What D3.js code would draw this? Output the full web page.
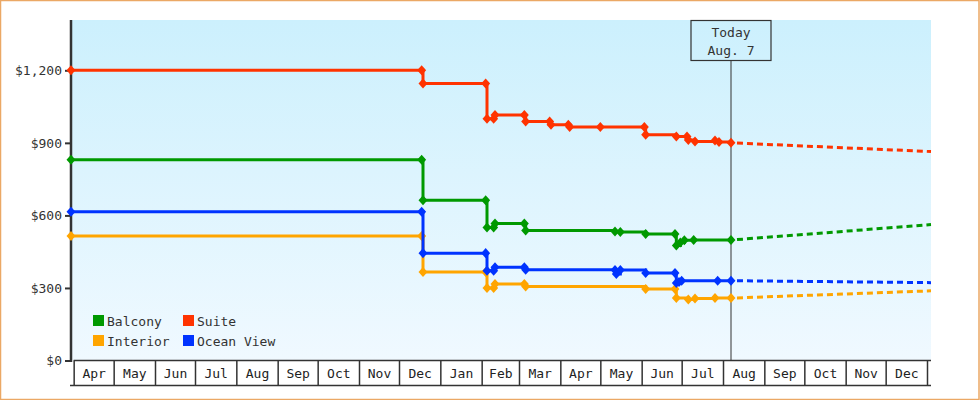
<!DOCTYPE html>
<html>
<head>
<meta charset="utf-8">
<script src="https://cdn.jsdelivr.net/npm/d3@7"></script>
<style>
body { margin: 0; background: #fff; }
svg { display: block; }
text { font-family: "DejaVu Sans Mono", monospace; font-size: 13px; fill: #333; }
</style>
</head>
<body>
<svg id="chart"></svg>
<script>
var width = 980;
var height = 400;

var plotLeft = 71;
var plotRight = 931;
var plotTop = 20;
var plotBottom = 360.5;

// price observations, [date, price]
var balconyPrices = [
	["2016-03-30", 830], ["2016-12-18", 830], ["2016-12-19", 663],
	["2017-02-04", 663], ["2017-02-05", 550], ["2017-02-10", 550],
	["2017-02-11", 566], ["2017-03-05", 566], ["2017-03-06", 538],
	["2017-05-12", 533], ["2017-05-16", 531], ["2017-06-04", 523],
	["2017-06-26", 523], ["2017-06-27", 476], ["2017-06-30", 488],
	["2017-07-03", 497], ["2017-07-10", 498], ["2017-08-07", 498]
];
var suitePrices = [
	["2016-03-30", 1200], ["2016-12-18", 1200], ["2016-12-19", 1145],
	["2017-02-04", 1145], ["2017-02-05", 1000], ["2017-02-10", 1000],
	["2017-02-11", 1015], ["2017-03-05", 1015], ["2017-03-06", 988],
	["2017-03-24", 988], ["2017-03-25", 975], ["2017-04-07", 975],
	["2017-04-08", 966], ["2017-05-01", 966], ["2017-06-03", 966],
	["2017-06-04", 934], ["2017-06-27", 926], ["2017-07-05", 926],
	["2017-07-06", 912], ["2017-07-11", 906], ["2017-07-26", 910],
	["2017-07-29", 904], ["2017-08-07", 900]
];
var interiorPrices = [
	["2016-03-30", 515], ["2016-12-18", 515], ["2016-12-19", 366],
	["2017-02-04", 366], ["2017-02-05", 300], ["2017-02-10", 300],
	["2017-02-11", 316], ["2017-03-05", 316], ["2017-03-06", 306],
	["2017-06-04", 296], ["2017-06-26", 296], ["2017-06-27", 258],
	["2017-07-06", 252], ["2017-07-11", 256], ["2017-07-26", 258],
	["2017-08-07", 258]
];
var oceanViewPrices = [
	["2016-03-30", 615], ["2016-12-18", 615], ["2016-12-19", 444],
	["2017-02-04", 444], ["2017-02-05", 371], ["2017-02-10", 371],
	["2017-02-11", 386], ["2017-03-05", 386], ["2017-03-06", 375],
	["2017-05-12", 374], ["2017-05-13", 358], ["2017-05-16", 374],
	["2017-06-04", 362], ["2017-06-26", 362], ["2017-06-27", 320],
	["2017-06-29", 325], ["2017-07-01", 330], ["2017-07-28", 330],
	["2017-08-07", 330]
];

var seriesNames = ["Balcony", "Suite", "Interior", "Ocean View"];
var seriesPrices = [balconyPrices, suitePrices, interiorPrices, oceanViewPrices];
var forecastPrices = [562, 864, 288, 322];
var seriesColors = ["#009900", "#ff3300", "#ffa500", "#0033ff"];
var drawOrder = [2, 0, 1, 3];

var startDate = "2016-03-30";
var endDate = "2018-01-04";
var today = "2017-08-07";
var todayLabel = ["Today", "Aug. 7"];
var yTicks = [0, 300, 600, 900, 1200];

var parseDate = d3.timeParse("%Y-%m-%d");

var svg = d3.select("#chart")
.attr("width", width)
.attr("height", height);

svg.append("rect")
.attr("x", 0.5)
.attr("y", 0.5)
.attr("width", width - 1.5)
.attr("height", height - 1)
.style("fill", "#ffffff")
.style("stroke", "#eba865")
.style("stroke-width", 1.5);

var grad = svg.append("defs").append("linearGradient")
.attr("id", "bg")
.attr("x1", 0).attr("y1", 0).attr("x2", 0).attr("y2", 1);
grad.append("stop").attr("offset", "0%").attr("stop-color", "#ccf0fd");
grad.append("stop").attr("offset", "100%").attr("stop-color", "#f0f9ff");

svg.append("rect")
.attr("x", plotLeft)
.attr("y", plotTop)
.attr("width", plotRight - plotLeft)
.attr("height", plotBottom - plotTop)
.style("fill", "url(#bg)");

var x = d3.scaleTime()
.domain([parseDate(startDate), parseDate(endDate)])
.range([plotLeft, plotRight]);

var y = d3.scaleLinear()
.domain([0, 1408])
.range([plotBottom, plotTop]);

// month boxes under the plot
var monthStarts = d3.timeMonth.range(d3.timeMonth.ceil(x.domain()[0]), x.domain()[1]);
var monthMids = monthStarts.slice(0, -1).map(function (m, i) {
	return new Date((m.getTime() + monthStarts[i + 1].getTime()) / 2);
});

var boxes = svg.append("g")
.attr("transform", "translate(0," + plotBottom + ")")
.call(d3.axisBottom(x).tickValues(monthStarts).tickSize(25).tickSizeOuter(0).tickFormat(""));
boxes.select(".domain").remove();
boxes.selectAll("line").style("stroke", "#333").style("stroke-width", 1.5);

svg.append("line")
.attr("x1", x(monthStarts[0])).attr("x2", plotRight)
.attr("y1", plotBottom).attr("y2", plotBottom)
.style("stroke", "#333").style("stroke-width", 1.5);
svg.append("line")
.attr("x1", plotLeft - 1).attr("x2", plotRight)
.attr("y1", plotBottom + 25).attr("y2", plotBottom + 25)
.style("stroke", "#333").style("stroke-width", 1.5);

var monthAxis = svg.append("g")
.attr("transform", "translate(0," + plotBottom + ")")
.call(d3.axisBottom(x).tickValues(monthMids).tickSize(0).tickPadding(8)
	.tickFormat(d3.timeFormat("%b")));
monthAxis.select(".domain").remove();
monthAxis.selectAll("text")
.style("font-family", "'DejaVu Sans Mono', monospace")
.style("font-size", "13px")
.style("fill", "#222");

// y axis
var yAxis = svg.append("g")
.attr("transform", "translate(" + plotLeft + ",0)")
.call(d3.axisLeft(y).tickValues(yTicks).tickSize(6).tickSizeOuter(0).tickPadding(3)
	.tickFormat(function (d) { return "$" + d3.format(",")(d); }));
yAxis.select(".domain").style("stroke", "#333").style("stroke-width", 2.5)
.attr("d", "M0," + plotTop + "V" + (plotBottom + 1.5));
yAxis.selectAll(".tick line").style("stroke", "#333").style("stroke-width", 2);
yAxis.selectAll("text")
.style("font-family", "'DejaVu Sans Mono', monospace")
.style("font-size", "13px")
.style("fill", "#333");

// today marker
var todayX = x(parseDate(today));
svg.append("line")
.attr("x1", todayX).attr("x2", todayX)
.attr("y1", plotTop + 40.5).attr("y2", plotBottom)
.style("stroke", "#333").style("stroke-width", 1);
svg.append("rect")
.attr("x", todayX - 40)
.attr("y", plotTop + 0.5)
.attr("width", 80)
.attr("height", 40)
.style("fill", "none")
.style("stroke", "#333")
.style("stroke-width", 1.2);
svg.selectAll(".todayText")
.data(todayLabel)
.enter().append("text")
.attr("class", "todayText")
.attr("x", todayX)
.attr("y", function (d, i) { return plotTop + 17 + i * 18; })
.style("text-anchor", "middle")
.text(function (d) { return d; });

var line = d3.line()
.x(function (d) { return x(parseDate(d[0])); })
.y(function (d) { return y(d[1]); })
.curve(d3.curveStepAfter);

var diamond = d3.symbol().type(d3.symbolSquare).size(40);

drawOrder.forEach(function (s) {
	var prices = seriesPrices[s];
	var last = prices[prices.length - 1];
	var g = svg.append("g");

	g.append("path")
	.datum([last, [endDate, forecastPrices[s]]])
	.attr("d", d3.line()
		.x(function (d) { return x(parseDate(d[0])); })
		.y(function (d) { return y(d[1]); }))
	.style("fill", "none")
	.style("stroke", seriesColors[s])
	.style("stroke-width", 3)
	.style("stroke-dasharray", "6,4")
	.style("stroke-dashoffset", -6);

	g.append("path")
	.datum(prices)
	.attr("d", line)
	.style("fill", "none")
	.style("stroke", seriesColors[s])
	.style("stroke-width", 3);

	g.selectAll(".marker")
	.data(prices)
	.enter().append("path")
	.attr("class", "marker")
	.attr("d", diamond)
	.attr("transform", function (d) {
		return "translate(" + x(parseDate(d[0])) + "," + y(d[1]) + ") scale(1,1.12) rotate(45)";
	})
	.style("fill", seriesColors[s]);
});

// legend
var legend = svg.selectAll(".legend")
.data(seriesNames)
.enter().append("g")
.attr("class", "legend")
.attr("transform", function (d, i) {
	return "translate(" + (93 + (i % 2) * 90) + "," + (315 + Math.floor(i / 2) * 20) + ")";
});
legend.append("rect")
.attr("width", 11)
.attr("height", 11)
.style("fill", function (d, i) { return seriesColors[i]; });
legend.append("text")
.attr("x", 14)
.attr("y", 10.5)
.text(function (d) { return d; });
</script>
</body>
</html>
